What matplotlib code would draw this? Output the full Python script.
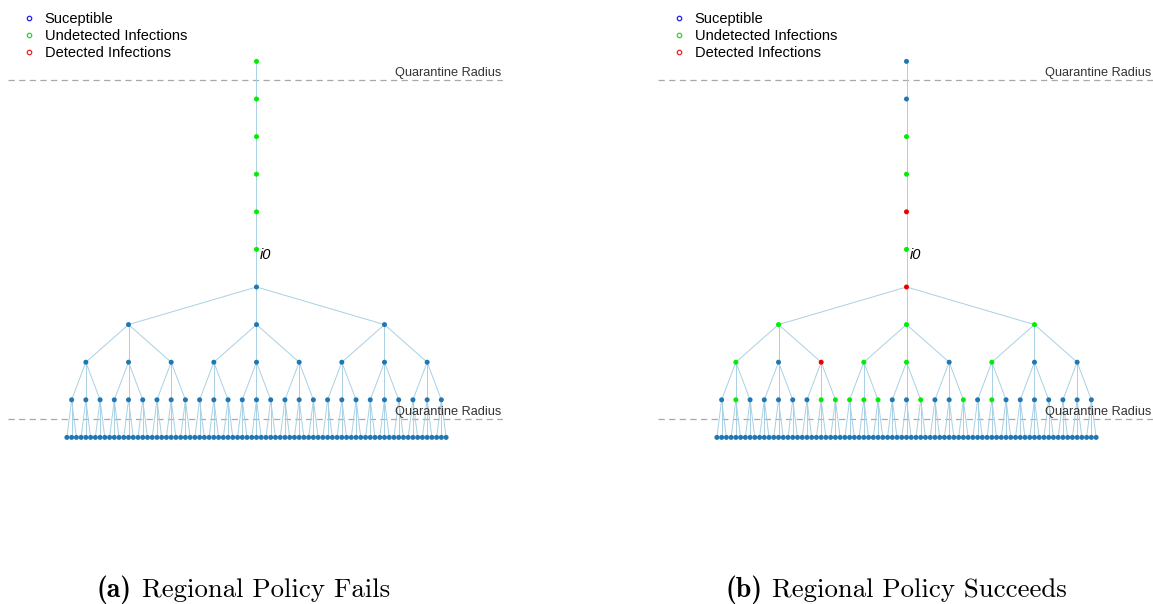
import matplotlib
matplotlib.use("Agg")
import matplotlib.pyplot as plt
from matplotlib.lines import Line2D
from matplotlib.collections import LineCollection
import matplotlib.transforms as mtransforms

# ---------------- data ----------------
BRANCH = 3
DEPTH = 4
# chain of nodes above the root, listed top to bottom (last one is i0)
chain_a = "UUUUUU"
tree_a = ["S", "SSS", "S" * 9, "S" * 27, "S" * 81]
chain_b = "SSUUDU"
tree_b = ["D", "UUU", "USDUUSUSS", "SUSSSSSUUUUUSSUSSUSUSSSSSSS", "S" * 81]

legend_labels = ["Suceptible", "Undetected Infections", "Detected Infections"]
legend_colors = ["#2222ee", "#22dd22", "#ee2222"]
node_colors = {"S": "#1f77b4", "U": "#00ee00", "D": "#ee0000"}
quarantine_levels = [-5.5, 3.5]
quarantine_label = "Quarantine Radius"
source_label = "i0"
captions = [("(a)", "Regional Policy Fails"),
            ("(b)", "Regional Policy Succeeds")]

# ---------------- figure ----------------
W, H = 1153, 604
fig = plt.figure(figsize=(W / 100, H / 100), dpi=100)

LEAF_PX = 4.74
LEVEL_PX = 37.6
CENTER_PX = 256.5
ROOT_PX = 287.0
PANEL_W = 503.0
panel_left = [0.0, 650.0]
caption_left = [97.0, 725.0]
CAPTION_BASE = 597.5
CAPTION_SIZE = 19.3


def layout():
    n_leaves = BRANCH ** DEPTH
    xs = [None] * (DEPTH + 1)
    xs[DEPTH] = [i - (n_leaves - 1) / 2 for i in range(n_leaves)]
    for d in range(DEPTH - 1, -1, -1):
        xs[d] = [sum(xs[d + 1][j * BRANCH:(j + 1) * BRANCH]) / BRANCH
                 for j in range(BRANCH ** d)]
    return xs


xs = layout()
renderer = fig.canvas.get_renderer()

for p, (chain, tree) in enumerate([(chain_a, tree_a), (chain_b, tree_b)]):
    ax = fig.add_axes([panel_left[p] / W, 0, PANEL_W / W, 1])
    ax.set_xlim(-CENTER_PX / LEAF_PX, (PANEL_W - CENTER_PX) / LEAF_PX)
    ax.set_ylim((H - ROOT_PX) / LEVEL_PX, -ROOT_PX / LEVEL_PX)
    ax.axis("off")

    # edges
    segs = []
    nchain = len(chain)
    segs.append([(0, -nchain), (0, 0)])
    for d in range(DEPTH):
        for j, xp in enumerate(xs[d]):
            for k in range(BRANCH):
                xc = xs[d + 1][j * BRANCH + k]
                segs.append([(xp, d), (xc, d + 1)])
    ax.add_collection(LineCollection(segs, colors="#a9d0e4", linewidths=0.7, zorder=1))

    # nodes
    px, py, pc = [], [], []
    for i, s in enumerate(chain):
        px.append(0)
        py.append(-nchain + i)
        pc.append(node_colors[s])
    for d in range(DEPTH + 1):
        for j, s in enumerate(tree[d]):
            px.append(xs[d][j])
            py.append(d)
            pc.append(node_colors[s])
    ax.scatter(px, py, s=13, c=pc, edgecolors="none", zorder=3)

    # quarantine lines
    trans = mtransforms.blended_transform_factory(ax.transAxes, ax.transData)
    for q in quarantine_levels:
        ax.axhline(q, xmin=8 / PANEL_W, xmax=1.0, color="#a8a8a8",
                   lw=0.9, ls=(0, (5, 3.5)), zorder=0)
        ax.annotate(quarantine_label, xy=(501 / PANEL_W, q), xycoords=trans,
                    xytext=(0, 0.6), textcoords="offset points",
                    ha="right", va="bottom", fontsize=9.2, color="#333333",
                    family="Liberation Sans")

    # i0 label
    ax.annotate(source_label, xy=(0, -1), xytext=(2.2, -3.8),
                textcoords="offset points", ha="left", va="center",
                fontsize=10.5, style="italic", family="Liberation Sans")

    # legend
    handles = [Line2D([], [], ls="none", marker="o", markersize=3.2,
                      markerfacecolor="none", markeredgecolor=c, markeredgewidth=0.9)
               for c in legend_colors]
    ax.legend(handles, legend_labels, loc="upper left",
              bbox_to_anchor=(22 / PANEL_W, 1 - 12.5 / H), borderaxespad=0,
              borderpad=0, frameon=False, handlelength=1.0, handletextpad=0.55,
              labelspacing=0.2, prop={"family": "Liberation Sans", "size": 10.5})

    # caption: bold label followed by roman text
    bold, rest = captions[p]
    t1 = fig.text(caption_left[p] / W, 1 - CAPTION_BASE / H, bold, ha="left",
                  va="baseline", fontsize=CAPTION_SIZE + 0.7, family="cmb10")
    bb = t1.get_window_extent(renderer=renderer)
    fig.text((bb.x1 + 10) / W, 1 - CAPTION_BASE / H, rest, ha="left",
             va="baseline", fontsize=CAPTION_SIZE, family="cmr10")

fig.savefig("out.png", dpi=100)
